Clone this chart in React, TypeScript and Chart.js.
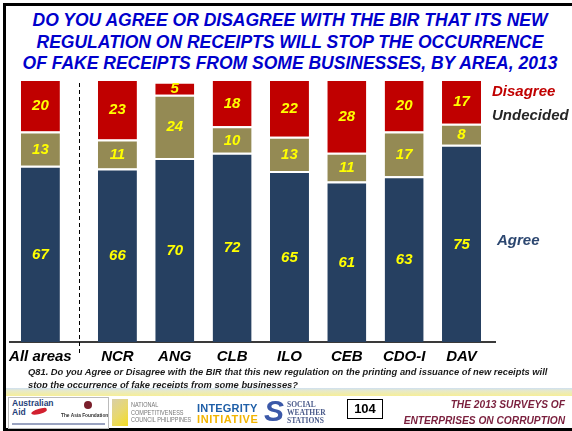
import React, { useEffect, useRef } from "react";
import { Chart, registerables } from "chart.js";

Chart.register(...registerables);

const categories = ["All areas", "NCR", "ANG", "CLB", "ILO", "CEB", "CDO-I", "DAV"];
const agree = [67, 66, 70, 72, 65, 61, 63, 75];
const undecided = [13, 11, 24, 10, 13, 11, 17, 8];
const disagree = [20, 23, 5, 18, 22, 28, 20, 17];

const seriesNames = ["Agree", "Undecided", "Disagree"];
const seriesColors = ["#264061", "#948A54", "#C00000"];

// layout: extra gap after the first ("All areas") group, in category units
const GROUP_GAP = 0.343;
const xPos = (i: number) => (i === 0 ? 0 : i + GROUP_GAP);

const FONT = '"Liberation Sans", Arial, sans-serif';

const valueLabels = {
  id: "valueLabels",
  afterDatasetsDraw(chart: any) {
    const ctx = chart.ctx;
    ctx.save();
    ctx.font = `italic bold 15px ${FONT}`;
    ctx.fillStyle = "#FFFF00";
    ctx.textAlign = "center";
    ctx.textBaseline = "middle";
    chart.data.datasets.forEach((ds: any, di: number) => {
      const meta = chart.getDatasetMeta(di);
      meta.data.forEach((el: any, i: number) => {
        const p = el.getProps(["x", "y", "base"], true);
        const v = ds.data[i].y;
        ctx.fillText(String(v), p.x, (p.y + p.base) / 2 + 1);
      });
    });
    ctx.restore();
  },
};

const divider = {
  id: "divider",
  afterDatasetsDraw(chart: any) {
    const meta = chart.getDatasetMeta(0);
    if (meta.data.length < 2) return;
    const x = Math.round((meta.data[0].x + meta.data[1].x) / 2) + 0.5;
    const { top, bottom } = chart.chartArea;
    const ctx = chart.ctx;
    ctx.save();
    ctx.strokeStyle = "#000";
    ctx.lineWidth = 1;
    ctx.setLineDash([4, 3]);
    ctx.beginPath();
    ctx.moveTo(x, top + 4);
    ctx.lineTo(x, bottom + 13);
    ctx.stroke();
    ctx.restore();
  },
};

function ChartCanvas() {
  const ref = useRef<HTMLCanvasElement>(null);
  useEffect(() => {
    if (!ref.current) return;
    const series = [agree, undecided, disagree];
    const chart = new Chart(ref.current, {
      type: "bar",
      data: {
        datasets: series.map((vals, si) => ({
          label: seriesNames[si],
          data: vals.map((v, i) => ({ x: xPos(i), y: v })),
          backgroundColor: seriesColors[si],
          borderColor: "#FFFFFF",
          borderWidth: { top: 2, left: 0, right: 0, bottom: 0 },
          borderSkipped: false,
          barPercentage: 0.68,
          categoryPercentage: 1,
        })),
      },
      options: {
        responsive: false,
        animation: false,
        layout: { padding: { left: 10, right: 77, top: 9, bottom: 0 } },
        plugins: { legend: { display: false }, tooltip: { enabled: false } },
        scales: {
          x: {
            type: "linear",
            stacked: true,
            offset: false,
            min: -0.53,
            max: 7.927,
            afterBuildTicks: (axis: any) => {
              axis.ticks = categories.map((_, i) => ({ value: xPos(i) }));
            },
            grid: { display: false, drawTicks: false },
            border: { display: true, color: "#3A3A3A", width: 2 },
            ticks: {
              autoSkip: false,
              maxRotation: 0,
              padding: 6,
              color: "#000",
              font: { family: FONT, size: 15, weight: "bold", style: "italic" },
              callback: (_v: any, i: number) => categories[i],
            },
          },
          y: {
            stacked: true,
            display: false,
            min: 0,
            max: 100,
          },
        },
      },
      plugins: [valueLabels, divider],
    } as any);
    return () => chart.destroy();
  }, []);
  return (
    <canvas
      ref={ref}
      width={572}
      height={302}
      style={{ position: "absolute", left: 0, top: 70, width: 572, height: 302 }}
    />
  );
}

const abs = (s: React.CSSProperties): React.CSSProperties => ({ position: "absolute", whiteSpace: "nowrap", ...s });

export default function App() {
  return (
    <div
      style={{
        position: "absolute",
        left: 0,
        top: 0,
        width: 572,
        height: 431,
        background: "#fff",
        overflow: "hidden",
        fontFamily: FONT,
      }}
    >
      {/* frame */}
      <div style={abs({ left: 3, top: 3, width: 569, height: 3, background: "#000" })} />
      <div style={abs({ left: 3, top: 3, width: 3, height: 428, background: "#000" })} />
      <div style={abs({ left: 3, top: 428, width: 569, height: 3, background: "#000" })} />

      {/* title */}
      <div
        style={abs({
          left: 8,
          width: 564,
          top: 10,
          textAlign: "center",
          font: `italic bold 17.5px ${FONT}`,
          lineHeight: "21.5px",
          color: "#0000CC",
        })}
      >
        DO YOU AGREE OR DISAGREE WITH THE BIR THAT ITS NEW
        <br />
        REGULATION ON RECEIPTS WILL STOP THE OCCURRENCE
        <br />
        OF FAKE RECEIPTS FROM SOME BUSINESSES, BY AREA, 2013
      </div>

      <ChartCanvas />

      {/* series labels */}
      <div style={abs({ left: 492, top: 82, font: `italic bold 15px ${FONT}`, lineHeight: "18px", color: "#C00000" })}>
        {seriesNames[2]}
      </div>
      <div style={abs({ left: 492, top: 106, font: `italic bold 15px ${FONT}`, lineHeight: "18px", color: "#262626" })}>
        {seriesNames[1]}
      </div>
      <div style={abs({ left: 497, top: 231, font: `italic bold 15px ${FONT}`, lineHeight: "18px", color: "#2C4770" })}>
        {seriesNames[0]}
      </div>

      {/* footnote */}
      <div style={abs({ left: 28, top: 366, font: `italic bold 9.35px ${FONT}`, lineHeight: "12.5px", color: "#1A1A1A" })}>
        Q81. Do you Agree or Disagree with the BIR that this new regulation on the printing and issuance of new receipts will
        <br />
        stop the occurrence of fake receipts from some businesses?
      </div>

      {/* footer band */}
      <div
        style={abs({
          left: 6,
          top: 388,
          width: 566,
          height: 8,
          background: "linear-gradient(to bottom, #CFE0F2 0%, #E8EAC8 35%, #F6EE98 100%)",
        })}
      />

      {/* logo 1 */}
      <div style={abs({ left: 8, top: 397, width: 99, height: 30, border: "1px solid #BBB", background: "#fff" })}>
        <div style={abs({ left: 3, top: 1, font: `bold 8.5px ${FONT}`, lineHeight: "9px", color: "#1F3F7A" })}>
          Australian
          <br />
          Aid
        </div>
        <div style={abs({ left: 22, top: 11, width: 16, height: 5, background: "#D2202F", borderRadius: "50% 30% 40% 50%", transform: "rotate(-15deg)" })} />
        <div style={abs({ left: 75, top: 3, width: 8, height: 8, background: "#7A1F2B", borderRadius: "50%" })} />
        <div style={abs({ left: 52, top: 15, font: `bold 4.8px ${FONT}`, color: "#333" })}>The Asia Foundation</div>
        <div style={abs({ left: 3, top: 25, width: 93, height: 2, background: "#9AA3C0" })} />
      </div>

      {/* logo 2 */}
      <div style={abs({ left: 112, top: 399, width: 16, height: 27, background: "linear-gradient(135deg, #D9CFA8 0%, #E8D870 50%, #F4DC20 100%)" })} />
      <div style={abs({ left: 131, top: 401, font: `6.5px ${FONT}`, lineHeight: "7.5px", color: "#777", transform: "scaleX(0.85)", transformOrigin: "left top" })}>
        NATIONAL
        <br />
        COMPETITIVENESS
        <br />
        COUNCIL PHILIPPINES
      </div>

      {/* logo 3 */}
      <div style={abs({ left: 197, top: 403, font: `bold 11px ${FONT}`, lineHeight: "10px", color: "#1F5FA8", letterSpacing: "0.2px" })}>
        INTEGRITY
      </div>
      <div style={abs({ left: 197, top: 414, font: `bold 11px ${FONT}`, lineHeight: "10px", color: "#F2B400", letterSpacing: "0.6px" })}>
        INITIATIVE
      </div>

      {/* logo 4 */}
      <div style={abs({ left: 264, top: 395, font: `italic bold 30px ${FONT}`, lineHeight: "32px", color: "#3B58A8" })}>S</div>
      <div style={abs({ left: 287, top: 401, font: `bold 7.5px "Liberation Serif", serif`, lineHeight: "8px", color: "#4A5A8A" })}>
        SOCIAL
        <br />
        WEATHER
        <br />
        STATIONS
      </div>

      {/* page number */}
      <div
        style={abs({
          left: 347,
          top: 399,
          width: 34,
          height: 18,
          border: "1px solid #000",
          textAlign: "center",
          font: `bold 13px ${FONT}`,
          lineHeight: "18px",
          color: "#000",
        })}
      >
        104
      </div>

      {/* footer title */}
      <div
        style={abs({
          right: 7,
          top: 397,
          textAlign: "right",
          font: `italic bold 10.2px ${FONT}`,
          lineHeight: "15.5px",
          color: "#7A1F3D",
        })}
      >
        THE 2013 SURVEYS OF
        <br />
        ENTERPRISES ON CORRUPTION
      </div>
    </div>
  );
}
